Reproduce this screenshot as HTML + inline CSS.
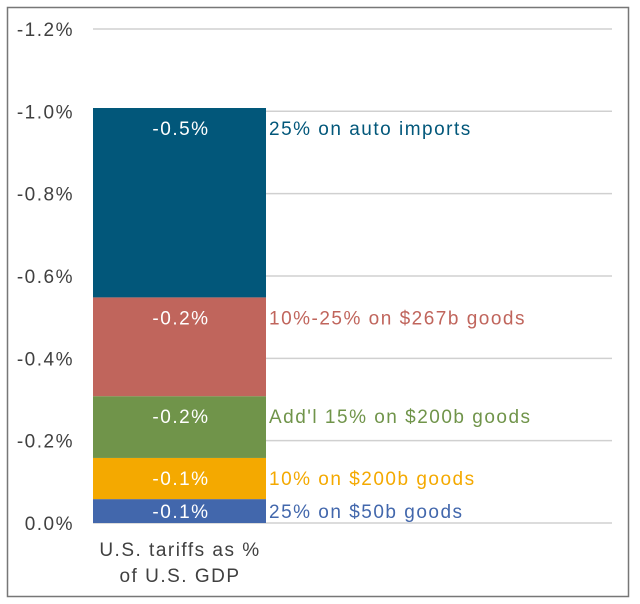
<!DOCTYPE html>
<html><head><meta charset="utf-8"><style>
html,body{margin:0;padding:0;background:#fff;}
svg{display:block;font-family:"Liberation Sans",Arial,sans-serif;}
svg text{letter-spacing:1.5px;}
</style></head><body>
<svg id="chart" width="640" height="604">
<rect x="7.5" y="7.5" width="621" height="589" fill="#fff" stroke="#777" stroke-width="1.5"/>
<g id="grid"></g><g id="bars"></g><g id="labels"></g>
<text x="180" y="556" text-anchor="middle" font-size="19" fill="#404040">U.S. tariffs as %</text>
<text x="180" y="582" text-anchor="middle" font-size="19" fill="#404040">of U.S. GDP</text>
</svg>
<script>
const ticks = [0, 0.2, 0.4, 0.6, 0.8, 1.0, 1.2];
const tickLabels = ["0.0%", "-0.2%", "-0.4%", "-0.6%", "-0.8%", "-1.0%", "-1.2%"];
const segValues = [0.058, 0.10, 0.15, 0.24, 0.46];
const segLabels = ["-0.1%", "-0.1%", "-0.2%", "-0.2%", "-0.5%"];
const segNames = ["25% on $50b goods", "10% on $200b goods", "Add'l 15% on $200b goods", "10%-25% on $267b goods", "25% on auto imports"];
const segColors = ["#4267ac", "#f4a900", "#70944a", "#c0655c", "#02577a"];
const NS = "http://www.w3.org/2000/svg";
const y0 = 523, pxPer = 411.7;
function y(v){ return y0 - v * pxPer; }
const grid = document.getElementById('grid'), bars = document.getElementById('bars'), labels = document.getElementById('labels');
ticks.forEach((t,i)=>{
  const l = document.createElementNS(NS,'line');
  l.setAttribute('x1',93); l.setAttribute('x2',612);
  l.setAttribute('y1',y(t)); l.setAttribute('y2',y(t));
  l.setAttribute('stroke','#d0d0d0'); l.setAttribute('stroke-width',1.5);
  
  
  grid.appendChild(l);
  const tx = document.createElementNS(NS,'text');
  tx.setAttribute('x',74); tx.setAttribute('y',y(t)+7);
  tx.setAttribute('text-anchor','end'); tx.setAttribute('font-size',19); tx.setAttribute('fill','#404040');
  tx.textContent = tickLabels[i];
  
  
  labels.appendChild(tx);
});
let cum = 0;
segValues.forEach((v,i)=>{
  const top = y(cum+v), bot = y(cum);
  cum += v;
  const r = document.createElementNS(NS,'rect');
  r.setAttribute('x',93); r.setAttribute('width',173);
  r.setAttribute('y',top); r.setAttribute('height',bot-top);
  r.setAttribute('fill',segColors[i]);
  
  
  bars.appendChild(r);
  const ly = top + Math.min(20, (bot-top)/2) + 7;
  const t1 = document.createElementNS(NS,'text');
  t1.setAttribute('x',181); t1.setAttribute('y',ly); t1.setAttribute('text-anchor','middle');
  t1.setAttribute('font-size',19); t1.setAttribute('fill','#fff');
  t1.textContent = segLabels[i];
  
  
  labels.appendChild(t1);
  const t2 = document.createElementNS(NS,'text');
  t2.setAttribute('x',269); t2.setAttribute('y',ly);
  t2.setAttribute('font-size',19); t2.setAttribute('fill',segColors[i]);
  t2.textContent = segNames[i];
  
  
  labels.appendChild(t2);
});
</script>
</body></html>
